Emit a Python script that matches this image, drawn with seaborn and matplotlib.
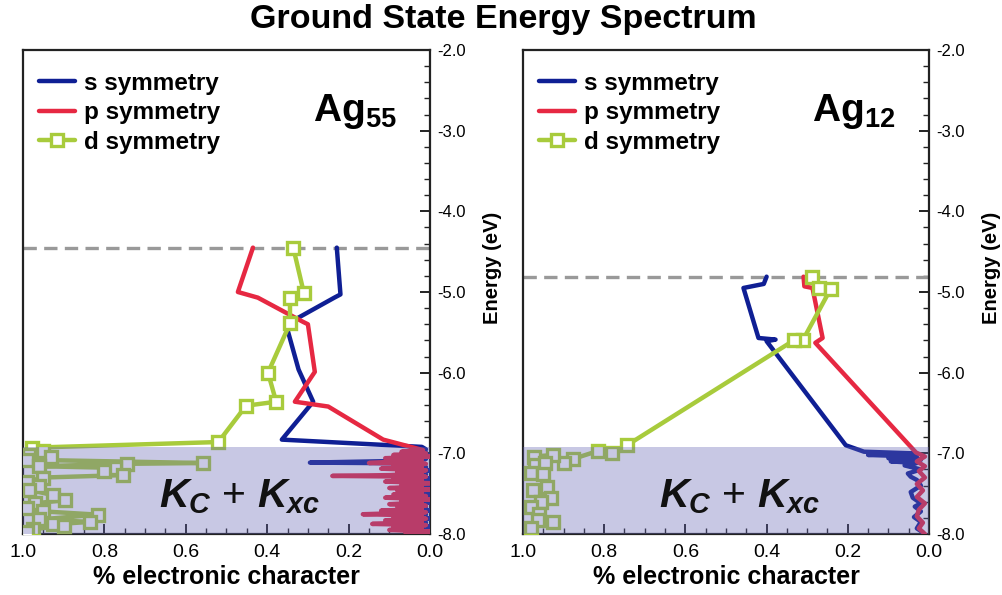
import matplotlib
matplotlib.use("Agg")
import matplotlib.pyplot as plt
import seaborn as sns
import pandas as pd

# ---- Ag55: orbital character (fraction) vs. energy level (eV) ----
ag55_s_energy = [-4.45, -5.03, -5.07, -5.32, -5.47, -5.96, -6.36, -6.83, -6.92,
                 -6.95, -6.97, -6.99, -7.01, -7.03, -7.05, -7.07, -7.09, -7.115, -7.125,
                 -7.15, -7.17, -7.19, -7.21, -7.24, -7.26, -7.29, -7.31, -7.34, -7.36,
                 -7.39, -7.41, -7.44, -7.46, -7.49, -7.51, -7.54, -7.56, -7.59, -7.61,
                 -7.64, -7.66, -7.69, -7.71, -7.74, -7.76, -7.79, -7.81, -7.84, -7.86,
                 -7.89, -7.91, -7.94, -7.96, -7.99]
ag55_s_char = [0.229, 0.22, 0.235, 0.324, 0.35, 0.323, 0.287, 0.364, 0.02,
               0.01, 0.05, 0.01, 0.04, 0.0, 0.06, 0.01, 0.04, 0.295, 0.02,
               0.05, 0.01, 0.06, 0.0, 0.04, 0.01, 0.05, 0.0, 0.06, 0.01,
               0.04, 0.0, 0.07, 0.01, 0.05, 0.0, 0.06, 0.01, 0.04, 0.0,
               0.05, 0.01, 0.06, 0.0, 0.04, 0.01, 0.05, 0.0, 0.06, 0.01,
               0.04, 0.0, 0.05, 0.01, 0.03]

ag55_p_energy = [-4.45, -5.00, -5.07, -5.37, -5.40, -5.99, -6.36, -6.42, -6.83, -6.96,
                 -6.98, -7.00, -7.02, -7.04, -7.06, -7.08, -7.10, -7.12, -7.13, -7.15,
                 -7.17, -7.19, -7.21, -7.23, -7.25, -7.27, -7.28, -7.29, -7.31, -7.33,
                 -7.35, -7.37, -7.39, -7.41, -7.43, -7.45, -7.47, -7.49, -7.51, -7.53,
                 -7.55, -7.57, -7.59, -7.61, -7.63, -7.65, -7.67, -7.69, -7.71, -7.73,
                 -7.755, -7.77, -7.79, -7.81, -7.83, -7.85, -7.875, -7.89, -7.91, -7.93,
                 -7.95, -7.97, -7.99]
ag55_p_char = [0.435, 0.472, 0.423, 0.312, 0.30, 0.283, 0.332, 0.25, 0.115, 0.017,
               0.07, 0.01, 0.09, 0.0, 0.11, 0.02, 0.08, 0.15, 0.01, 0.09,
               0.02, 0.12, 0.01, 0.08, 0.02, 0.10, 0.24, 0.01, 0.09, 0.02,
               0.11, 0.0, 0.07, 0.02, 0.10, 0.0, 0.08, 0.02, 0.09, 0.01,
               0.11, 0.0, 0.07, 0.02, 0.10, 0.01, 0.08, 0.02, 0.12, 0.01,
               0.165, 0.02, 0.09, 0.01, 0.11, 0.02, 0.142, 0.01, 0.09, 0.02,
               0.10, 0.0, 0.06]

ag55_d_energy = [-4.45, -5.01, -5.07, -5.39, -6.00, -6.36, -6.41, -6.86, -6.93,
                 -6.97, -7.02, -7.04, -7.08, -7.12, -7.13, -7.16, -7.18, -7.22, -7.27,
                 -7.30, -7.35, -7.40, -7.45, -7.52, -7.58, -7.62, -7.68, -7.72, -7.76,
                 -7.82, -7.85, -7.88, -7.90, -7.94, -7.98]
ag55_d_char = [0.336, 0.31, 0.344, 0.344, 0.398, 0.378, 0.452, 0.52, 0.978,
               0.95, 0.985, 0.93, 0.99, 0.557, 0.745, 0.96, 0.774, 0.80, 0.754,
               0.95, 0.99, 0.96, 0.985, 0.926, 0.897, 0.97, 0.99, 0.95, 0.816,
               0.96, 0.835, 0.926, 0.90, 0.975, 0.99]

# ---- Ag12 ----
ag12_s_energy = [-4.81, -4.90, -4.95, -5.57, -5.59, -5.61, -6.90, -6.98,
                 -7.00, -7.02, -7.04, -7.06, -7.08, -7.10, -7.12, -7.15, -7.20, -7.25,
                 -7.29, -7.33, -7.40, -7.48, -7.55, -7.62, -7.66, -7.72, -7.79, -7.85,
                 -7.93, -7.98]
ag12_s_char = [0.40, 0.407, 0.457, 0.42, 0.378, 0.40, 0.205, 0.16,
               0.04, 0.15, 0.03, 0.10, 0.02, 0.094, 0.03, 0.06, 0.02, 0.052,
               0.045, 0.03, 0.02, 0.045, 0.04, 0.02, 0.035, 0.02, 0.037, 0.02,
               0.03, 0.015]

ag12_p_energy = [-4.81, -4.93, -4.95, -5.57, -5.63, -6.99,
                 -7.04, -7.10, -7.16, -7.22, -7.30, -7.38, -7.46, -7.54, -7.62, -7.70,
                 -7.78, -7.86, -7.93, -8.00]
ag12_p_char = [0.309, 0.307, 0.287, 0.262, 0.28, 0.032,
               0.01, 0.03, 0.01, 0.025, 0.01, 0.03, 0.015, 0.03, 0.01, 0.025,
               0.03, 0.015, 0.025, 0.01]

ag12_d_energy = [-4.81, -4.95, -4.96, -5.59, -5.60, -6.90, -6.99, -6.97, -7.07, -7.12,
                 -7.02, -7.04, -7.14, -7.12, -7.24, -7.26, -7.42, -7.46, -7.55, -7.60,
                 -7.66, -7.75, -7.85, -7.83, -7.93]
ag12_d_char = [0.287, 0.27, 0.242, 0.31, 0.333, 0.744, 0.78, 0.815, 0.877, 0.90,
               0.925, 0.973, 0.97, 0.946, 0.98, 0.95, 0.94, 0.975, 0.93, 0.956,
               0.98, 0.96, 0.926, 0.963, 0.98]

homo_levels = [-4.45, -4.82]
cluster_names = ["Ag$_{55}$", "Ag$_{12}$"]
kernel_region = [-8.0, -6.92]
x_ticks = [1.0, 0.8, 0.6, 0.4, 0.2, 0.0]
y_ticks = [-2.0, -3.0, -4.0, -5.0, -6.0, -7.0, -8.0]

sns.set_theme(style="ticks")
plt.rcParams["font.family"] = ["Liberation Sans", "DejaVu Sans"]
plt.rcParams["mathtext.fontset"] = "custom"
plt.rcParams["mathtext.rm"] = "Liberation Sans:bold"
plt.rcParams["mathtext.bf"] = "Liberation Sans:bold"
plt.rcParams["mathtext.it"] = "Liberation Sans:bold:italic"
plt.rcParams["axes.unicode_minus"] = False
for key in ["text.color", "axes.labelcolor", "xtick.color", "ytick.color",
            "xtick.labelcolor", "ytick.labelcolor"]:
    plt.rcParams[key] = "black"

BLUE = "#0f1f94"
RED = "#e62842"
GREEN = "#a8cb3c"

fig = plt.figure(figsize=(10.03, 5.95), dpi=100)
ax_l = fig.add_axes([23 / 1003, 1 - 534 / 595, 407 / 1003, 484 / 595])
ax_r = fig.add_axes([523 / 1003, 1 - 534 / 595, 406 / 1003, 484 / 595])

panels = [
    (ax_l, ag55_s_energy, ag55_s_char, ag55_p_energy, ag55_p_char, ag55_d_energy, ag55_d_char),
    (ax_r, ag12_s_energy, ag12_s_char, ag12_p_energy, ag12_p_char, ag12_d_energy, ag12_d_char),
]

for i, (ax, se, sc, pe, pc, de, dc) in enumerate(panels):
    s_df = pd.DataFrame({"char": sc, "energy": se})
    p_df = pd.DataFrame({"char": pc, "energy": pe})
    d_df = pd.DataFrame({"char": dc, "energy": de})
    sns.lineplot(data=s_df, x="char", y="energy", sort=False, estimator=None,
                 color=BLUE, lw=3.2, label="s symmetry", ax=ax, zorder=3)
    sns.lineplot(data=p_df, x="char", y="energy", sort=False, estimator=None,
                 color=RED, lw=3.2, label="p symmetry", ax=ax, zorder=3)
    sns.lineplot(data=d_df, x="char", y="energy", sort=False, estimator=None,
                 color=GREEN, lw=3.2, marker="s", markersize=8.5,
                 markerfacecolor="white", markeredgecolor=GREEN, markeredgewidth=2.4,
                 label="d symmetry", ax=ax, zorder=3)

    ax.axhline(homo_levels[i], color="#999999", lw=2.4, ls=(0, (4, 2.2)), zorder=2)
    ax.axhspan(kernel_region[0], kernel_region[1], color="#6464b4", alpha=0.35,
               lw=0, zorder=4)

    ax.set_xlim(1.0, 0.0)
    ax.set_ylim(-8.0, -2.0)
    ax.set_xticks(x_ticks)
    ax.set_xticklabels([f"{t:.1f}" for t in x_ticks])
    ax.set_xticks([k * 0.05 for k in range(21)], minor=True)
    ax.set_yticks(y_ticks)
    ax.set_yticklabels([f"{t:.1f}" for t in y_ticks])
    ax.set_yticks([-8.0 + k * 0.2 for k in range(31)], minor=True)
    ax.yaxis.tick_right()
    ax.yaxis.set_label_position("right")
    ax.tick_params(axis="both", which="major", direction="in", length=7, width=1.4,
                   color="#222222")
    ax.tick_params(axis="both", which="minor", direction="in", length=4, width=1.0,
                   color="#222222")
    ax.tick_params(axis="x", labelsize=14, pad=7)
    ax.tick_params(axis="y", labelsize=12, pad=5, right=True, left=False)
    for sp in ax.spines.values():
        sp.set_visible(True)
        sp.set_linewidth(1.6)
        sp.set_color("#222222")

    ax.set_xlabel("% electronic character", fontsize=18, fontweight="bold", labelpad=3)
    ax.set_ylabel("Energy (eV)", fontsize=14.5, fontweight="bold", rotation=90)
    ax.yaxis.set_label_coords(1.13, 0.55)

    ax.text(0.815, 0.872, cluster_names[i], transform=ax.transAxes, fontsize=28,
            fontweight="bold", ha="center", va="center", zorder=6)
    ax.text(0.533, 0.077, r"$K_C$ + $K_{xc}$", transform=ax.transAxes, fontsize=29.5,
            ha="center", va="center", color="#111111", zorder=6)

    leg = ax.legend(loc="upper left", frameon=False,
                    prop={"weight": "bold", "size": 17.5}, handlelength=1.5,
                    handletextpad=0.36, labelspacing=0.27,
                    borderaxespad=0.0, bbox_to_anchor=(0.015, 0.975))
    leg.set_zorder(10)

fig.suptitle("Ground State Energy Spectrum", fontsize=24.5, fontweight="bold",
             y=0.993, x=0.502)

fig.savefig("out.png", dpi=100)
